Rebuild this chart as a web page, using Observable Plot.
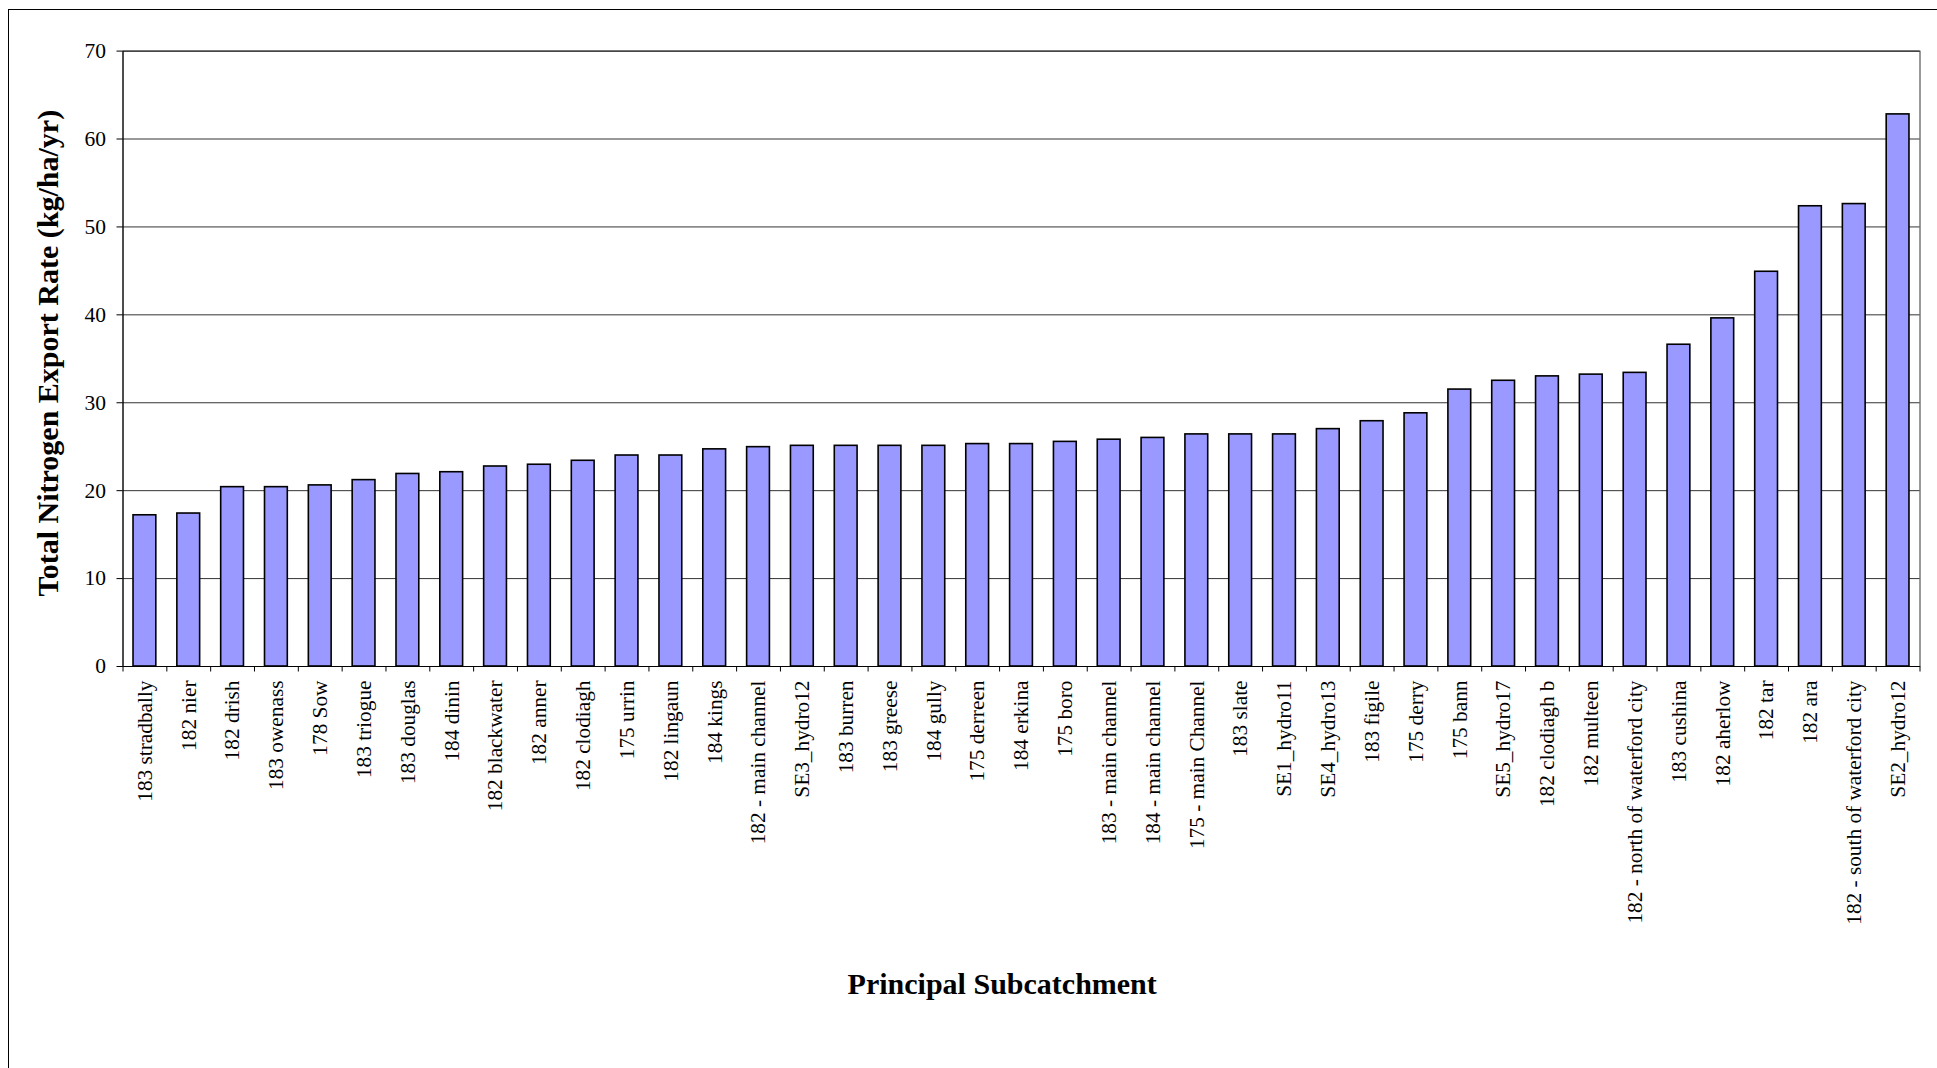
<!DOCTYPE html>
<html><head><meta charset="utf-8">
<script src="https://cdn.jsdelivr.net/npm/d3@7"></script>
<script src="https://cdn.jsdelivr.net/npm/@observablehq/plot@0.6"></script>
<style>
html,body{margin:0;padding:0;background:#fff;overflow:hidden;}
#wrap{position:relative;width:1937px;height:1068px;overflow:hidden;}
#border{position:absolute;left:8px;top:9px;width:3000px;height:3000px;border-left:1px solid #000;border-top:1px solid #000;pointer-events:none;}
</style></head><body><div id="wrap"><div id="border"></div></div>
<script>
const categories = [
  "183 stradbally","182 nier","182 drish","183 owenass","178 Sow","183 triogue","183 douglas",
  "184 dinin","182 blackwater","182 anner","182 clodiagh","175 urrin","182 lingaun","184 kings",
  "182 - main channel","SE3_hydro12","183 burren","183 greese","184 gully","175 derreen",
  "184 erkina","175 boro","183 - main channel","184 - main channel","175 - main Channel",
  "183 slate","SE1_hydro11","SE4_hydro13","183 figile","175 derry","175 bann","SE5_hydro17",
  "182 clodiagh b","182 multeen","182 - north of waterford city","183 cushina","182 aherlow",
  "182 tar","182 ara","182 - south of waterford city","SE2_hydro12"
];
const values = [
  17.2, 17.4, 20.4, 20.4, 20.6, 21.2, 21.9,
  22.1, 22.75, 22.95, 23.4, 24.0, 24.0, 24.7,
  24.95, 25.1, 25.1, 25.1, 25.1, 25.3,
  25.3, 25.55, 25.8, 26.0, 26.4,
  26.4, 26.4, 27.0, 27.9, 28.8, 31.5, 32.5,
  33.0, 33.2, 33.4, 36.6, 39.6,
  44.9, 52.35, 52.6, 62.8
];
const yTicks = [0, 10, 20, 30, 40, 50, 60, 70];
const xTitle = "Principal Subcatchment";
const yTitle = "Total Nitrogen Export Rate (kg/ha/yr)";

const data = categories.map((c, i) => ({name: c, value: values[i]}));
const serif = "'Liberation Serif','Times New Roman',serif";

const chart = Plot.plot({
  width: 1937, height: 1068,
  marginLeft: 122.5, marginRight: 17.5, marginTop: 50.6, marginBottom: 402,
  style: {fontFamily: serif, fontSize: "21px", color: "#000", background: "transparent", overflow: "visible"},
  x: {domain: categories, paddingInner: 0.48, paddingOuter: 0.24, label: null},
  y: {domain: [0, 70], ticks: yTicks, label: null},
  marks: [
    Plot.gridY(yTicks, {stroke: "#000", strokeOpacity: 0.8}),
    Plot.barY(data, {x: "name", y: "value", fill: "#9999ff", stroke: "#000", strokeWidth: 1.6}),
    Plot.frame({stroke: "#000", strokeOpacity: 0.8}),
    Plot.ruleY([0], {stroke: "#000"}),
    Plot.axisY(yTicks, {tickSize: 6, tickPadding: 11, fontSize: 21.5, label: null}),
    Plot.axisX({tickSize: 0, tickPadding: 14, tickRotate: -90, fontSize: 21.3, label: null}),
    Plot.text([yTitle], {text: d => d, frameAnchor: "left", dx: -75, dy: -5.6, rotate: -90,
      fontSize: 30, fontWeight: "bold", textAnchor: "middle", lineAnchor: "middle", fill: "#000"}),
    Plot.text([xTitle], {text: d => d, frameAnchor: "bottom", dx: -19.3, dy: 317.5,
      fontSize: 30, fontWeight: "bold", textAnchor: "middle", lineAnchor: "middle", fill: "#000"})
  ]
});

// category boundary tick marks (Excel style), positioned from the x and y scales
const xs = chart.scale("x");
const ys = chart.scale("y");
const step = (xs.range[1] - xs.range[0]) / categories.length;
const y0 = ys.apply(0);
const tg = d3.select(chart).append("g").attr("stroke", "#000").attr("transform", "translate(0.5,0.5)");
for (let i = 0; i <= categories.length; i++) {
  const x = xs.range[0] + i * step;
  tg.append("line").attr("x1", x).attr("x2", x).attr("y1", y0).attr("y2", y0 + 5);
}
// y-axis line
tg.append("line").attr("x1", xs.range[0]).attr("x2", xs.range[0]).attr("y1", ys.apply(70)).attr("y2", y0);

const wrap = document.getElementById("wrap");
chart.style.position = "absolute";
chart.style.left = "0";
chart.style.top = "0";
wrap.insertBefore(chart, wrap.firstChild);
</script>
</body></html>
